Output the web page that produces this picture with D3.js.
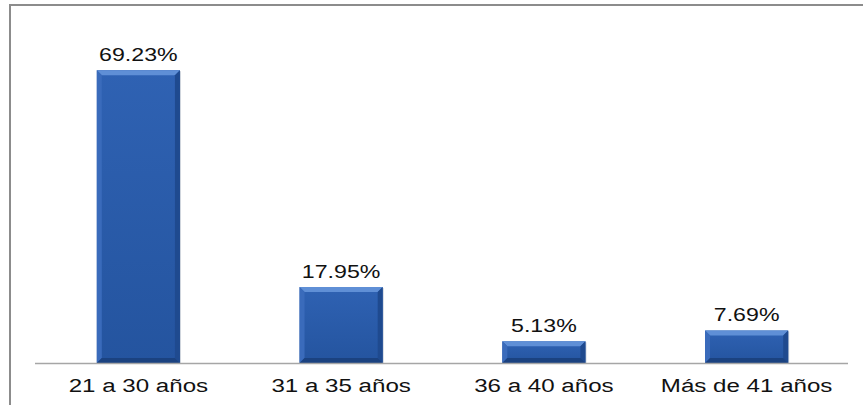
<!DOCTYPE html>
<html><head><meta charset="utf-8">
<script src="https://cdn.jsdelivr.net/npm/d3@7"></script>
<style>body{margin:0;background:#fff}svg{display:block}</style>
</head><body>
<script>
const categories = ["21 a 30 años", "31 a 35 años", "36 a 40 años", "Más de 41 años"];
const values = [69.23, 17.95, 5.13, 7.69];
const valueLabels = ["69.23%", "17.95%", "5.13%", "7.69%"];

const W = 863, H = 405;
const svg = d3.select("body").append("svg").attr("width", W).attr("height", H);
const defs = svg.append("defs");
const g1 = defs.append("linearGradient").attr("id","barg").attr("x1",0).attr("x2",0).attr("y1",0).attr("y2",1);
g1.append("stop").attr("offset","0%").attr("stop-color","#2f62b3");
g1.append("stop").attr("offset","100%").attr("stop-color","#24549f");

// outer border
svg.append("rect").attr("x",10).attr("y",5).attr("width",W).attr("height",H)
  .attr("fill","none").attr("stroke","#8c8c8c").attr("stroke-width",2);

const x = d3.scaleBand().domain(categories).range([37, 848]).paddingInner(0.59).paddingOuter(0.295);
const y = d3.scaleLinear().domain([0, 80]).range([363, 363 - 80 * 4.23]);

const bw = x.bandwidth();
const bev = 5;
const bars = svg.append("g").selectAll("g").data(categories).join("g");
bars.each(function(c, i) {
  const gg = d3.select(this);
  const x0 = x(c), x1 = x0 + bw, y0 = y(values[i]), y1 = y(0);
  const b = Math.min(bev, (y1 - y0) / 2);
  gg.append("rect").attr("x", x0+1).attr("y", y0+1).attr("width", bw).attr("height", y1-y0)
    .attr("fill","#9aa6b8").attr("opacity",0.5);
  gg.append("rect").attr("x", x0).attr("y", y0).attr("width", bw).attr("height", y1 - y0).attr("fill","url(#barg)");
  gg.append("polygon").attr("points", [[x0,y0],[x1,y0],[x1-b,y0+b],[x0+b,y0+b]].join(" ")).attr("fill","#5f8fd6");
  gg.append("polygon").attr("points", [[x0,y0],[x0+b,y0+b],[x0+b,y1-b],[x0,y1]].join(" ")).attr("fill","#3a6bbb");
  gg.append("polygon").attr("points", [[x1,y0],[x1-b,y0+b],[x1-b,y1-b],[x1,y1]].join(" ")).attr("fill","#1f4a8f");
  gg.append("polygon").attr("points", [[x0,y1],[x0+b,y1-b],[x1-b,y1-b],[x1,y1]].join(" ")).attr("fill","#1b4280");
});

// baseline
svg.append("line").attr("x1",35).attr("x2",848).attr("y1",363.5).attr("y2",363.5)
  .attr("stroke","#a6a6a6").attr("stroke-width",1.5);

// value labels
svg.append("g").selectAll("text").data(categories).join("text")
  .attr("transform", (c,i) => `translate(${x(c)+bw/2},${y(values[i]) - 9}) scale(1.22,1)`)
  .attr("text-anchor","middle")
  .attr("font-family","Liberation Sans, Arial, sans-serif").attr("font-size",19).attr("fill","#111")
  .text((c,i) => valueLabels[i]);

// category labels
svg.append("g").selectAll("text").data(categories).join("text")
  .attr("transform", c => `translate(${x(c)+bw/2},392) scale(1.27,1)`)
  .attr("text-anchor","middle")
  .attr("font-family","Liberation Sans, Arial, sans-serif").attr("font-size",19).attr("fill","#111")
  .text(c => c);
</script>
</body></html>
